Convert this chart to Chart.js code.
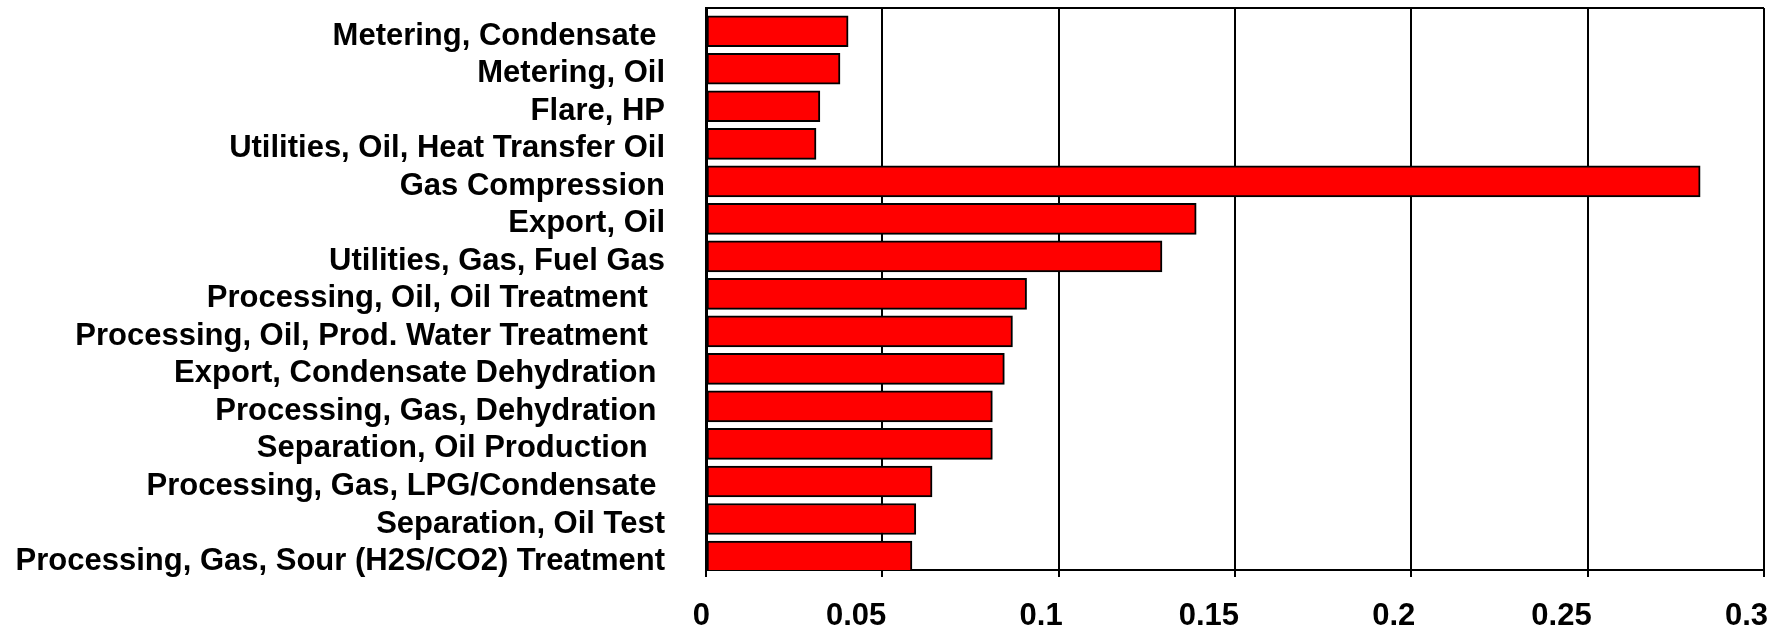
<!DOCTYPE html>
<html>
<head>
<meta charset="utf-8">
<script src="https://cdn.jsdelivr.net/npm/chart.js@4/dist/chart.umd.min.js"></script>
<style>
  html, body { margin: 0; padding: 0; background: #ffffff; }
  #wrap { width: 1783px; height: 633px; position: relative; }
</style>
</head>
<body>
<div id="wrap"><canvas id="c" width="1783" height="633"></canvas></div>
<script>
const categories = [
  'Metering, Condensate ',
  'Metering, Oil',
  'Flare, HP',
  'Utilities, Oil, Heat Transfer Oil',
  'Gas Compression',
  'Export, Oil',
  'Utilities, Gas, Fuel Gas',
  'Processing, Oil, Oil Treatment  ',
  'Processing, Oil, Prod. Water Treatment  ',
  'Export, Condensate Dehydration ',
  'Processing, Gas, Dehydration ',
  'Separation, Oil Production  ',
  'Processing, Gas, LPG/Condensate ',
  'Separation, Oil Test',
  'Processing, Gas, Sour (H2S/CO2) Treatment'
];
const values = [0.0403, 0.0380, 0.0323, 0.0312, 0.2819, 0.1390, 0.1293, 0.0909, 0.0869, 0.0846, 0.0812, 0.0812, 0.0641, 0.0595, 0.0584];
const xTickLabels = ['0', '0.05', '0.1', '0.15', '0.2', '0.25', '0.3'];

// category axis range (row index units); rows sit slightly low like the original
const Y_MIN = -0.62;
const Y_MAX = 14.36;

const FONT = { family: "'Liberation Sans', Arial, sans-serif", size: 31, weight: 'bold', lineHeight: 1.2 };

const points = values.map((v, i) => ({ x: v, y: i }));

new Chart(document.getElementById('c'), {
  type: 'bar',
  data: {
    datasets: [{
      data: points,
      xAxisID: 'x',
      yAxisID: 'y',
      backgroundColor: '#ff0000',
      borderColor: '#000000',
      borderWidth: 2,
      borderSkipped: false,
      barThickness: 31
    }]
  },
  options: {
    indexAxis: 'y',
    responsive: false,
    animation: false,
    devicePixelRatio: 1,
    layout: { padding: { top: 8, right: 19, left: 0, bottom: 0 } },
    plugins: { legend: { display: false }, tooltip: { enabled: false } },
    scales: {
      x: {
        type: 'linear',
        position: 'bottom',
        min: 0,
        max: 0.3,
        afterFit: (s) => { s.height = 63; s.paddingLeft = 0; s.paddingRight = 0; },
        ticks: {
          stepSize: 0.05,
          autoSkip: false,
          maxRotation: 0,
          align: 'end',
          labelOffset: 4,
          padding: 21,
          color: '#000000',
          font: FONT,
          callback: (v, i) => xTickLabels[i]
        },
        grid: { color: '#000000', lineWidth: 2, tickLength: 7, drawTicks: true, drawOnChartArea: true },
        border: { display: true, color: '#000000', width: 2 }
      },
      y: {
        type: 'linear',
        reverse: true,
        offset: false,
        bounds: 'data',
        min: Y_MIN,
        max: Y_MAX,
        afterBuildTicks: (s) => {
          s.ticks = [{ value: Y_MIN }].concat(categories.map((c, i) => ({ value: i })));
        },
        afterFit: (s) => { s.width = 706; s.paddingTop = 0; s.paddingBottom = 0; },
        ticks: {
          autoSkip: false,
          padding: 0,
          labelOffset: 5,
          color: '#000000',
          font: FONT,
          callback: (v) => (Number.isInteger(v) && categories[v] !== undefined ? categories[v] : '')
        },
        grid: {
          display: true,
          offset: false,
          drawOnChartArea: true,
          drawTicks: true,
          tickLength: 41,
          tickColor: 'rgba(0,0,0,0)',
          lineWidth: 2,
          color: (ctx) => (ctx.tick && ctx.tick.value === Y_MIN ? '#000000' : 'rgba(0,0,0,0)')
        },
        border: { display: true, color: '#000000', width: 3 }
      }
    }
  }
});
</script>
</body>
</html>
